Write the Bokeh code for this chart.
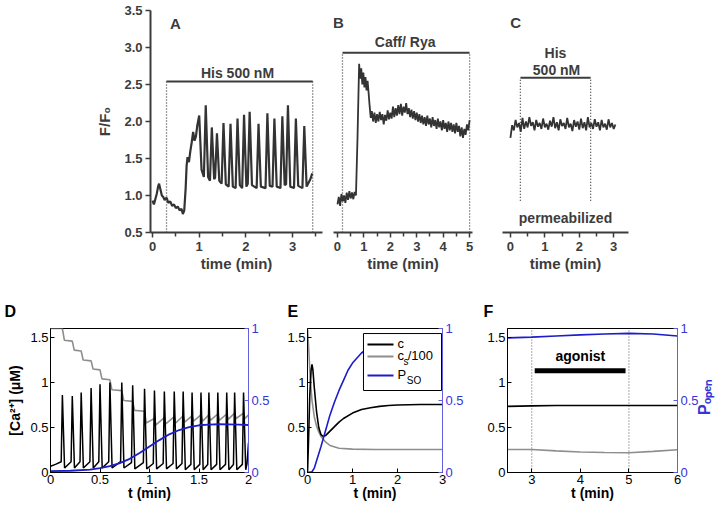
from math import pi
from bokeh.plotting import figure
from bokeh.layouts import row, column
from bokeh.models import (Range1d, LinearAxis, Label, FixedTicker, NumeralTickFormatter,
                          CustomJSTickFormatter, BoxAnnotation, Arrow)
from bokeh.embed import file_html
from bokeh.resources import INLINE

# ---------------- Panel A : His 500 nM, F/F0 vs time (min) ----------------
a_base_t = [0.0, 0.03, 0.06, 0.09, 0.12, 0.14, 0.17, 0.20, 0.23, 0.26, 0.30, 0.34, 0.38, 0.42,
            0.46, 0.50, 0.54, 0.58, 0.62, 0.65, 0.68, 0.71, 0.73, 0.75, 0.78, 0.81, 0.84, 0.87,
            0.90, 0.93, 0.96]
a_base_v = [0.93, 0.88, 0.95, 1.02, 1.12, 1.16, 1.08, 1.00, 0.98, 0.94, 0.97, 0.90, 0.92, 0.86,
            0.88, 0.83, 0.85, 0.80, 0.82, 0.75, 0.80, 1.10, 1.40, 1.52, 1.45, 1.60, 1.72, 1.86,
            1.74, 1.80, 1.95]
a_peak_t = [1.00, 1.14, 1.27, 1.38, 1.52, 1.67, 1.82, 1.96, 2.08, 2.27, 2.46, 2.61, 2.78, 2.90, 3.07, 3.25]
a_peak_v = [2.08, 2.22, 1.92, 1.84, 1.98, 1.97, 2.04, 2.09, 2.13, 1.97, 2.11, 2.04, 2.07, 2.22, 2.04, 1.94]
a_fall_t = [1.05, 1.19, 1.32, 1.43, 1.57, 1.72, 1.87, 2.01, 2.13, 2.32, 2.51, 2.66, 2.83, 2.95, 3.12, 3.30]
a_fall_v = [1.35, 1.25, 1.22, 1.20, 1.15, 1.12, 1.14, 1.12, 1.14, 1.12, 1.13, 1.12, 1.14, 1.12, 1.13, 1.12]
a_low_t = [1.10, 1.23, 1.34, 1.48, 1.63, 1.78, 1.92, 2.04, 2.23, 2.42, 2.57, 2.74, 2.86, 3.03, 3.21, 3.38]
a_low_v = [1.25, 1.20, 1.24, 1.16, 1.12, 1.10, 1.10, 1.16, 1.10, 1.10, 1.12, 1.10, 1.15, 1.10, 1.10, 1.22]
a_end_t = [3.42]
a_end_v = [1.30]
a_stim = [0.30, 3.43]          # His 500 nM application (min)
a_stim_level = 2.54

# ---------------- Panel B : Caff / Rya ----------------
b_t = [0.00, 0.05, 0.10, 0.15, 0.20, 0.25, 0.30, 0.35, 0.40, 0.45, 0.50, 0.55, 0.60, 0.65, 0.70,
       0.76, 0.82, 0.86, 0.90, 0.94, 0.98, 1.02, 1.06, 1.10, 1.14, 1.18, 1.22, 1.26, 1.30, 1.35,
       1.40, 1.45, 1.50, 1.55, 1.60, 1.65, 1.70, 1.75, 1.80, 1.85, 1.90, 1.95, 2.00, 2.05, 2.10,
       2.15, 2.20, 2.25, 2.30, 2.35, 2.40, 2.45, 2.50, 2.55, 2.60, 2.65, 2.70, 2.75, 2.80, 2.85,
       2.90, 2.95, 3.00, 3.05, 3.10, 3.15, 3.20, 3.25, 3.30, 3.35, 3.40, 3.45, 3.50, 3.55, 3.60,
       3.65, 3.70, 3.75, 3.80, 3.85, 3.90, 3.95, 4.00, 4.05, 4.10, 4.15, 4.20, 4.25, 4.30, 4.35,
       4.40, 4.45, 4.50, 4.55, 4.60, 4.65, 4.70, 4.75, 4.80, 4.85, 4.90, 4.95, 5.00]
b_v = [0.88, 0.98, 0.86, 1.02, 0.92, 1.00, 0.90, 1.04, 0.94, 1.06, 0.96, 1.04, 0.95, 1.05, 1.00,
       1.80, 2.78, 2.58, 2.72, 2.50, 2.66, 2.46, 2.60, 2.42, 2.55, 2.38, 2.20, 2.05, 2.14, 2.00,
       2.12, 1.98, 2.10, 2.00, 2.13, 2.02, 2.10, 1.96, 2.09, 2.01, 2.15, 2.03, 2.12, 2.04, 2.20,
       2.06, 2.18, 2.08, 2.22, 2.10, 2.24, 2.08, 2.20, 2.12, 2.25, 2.10, 2.18, 2.06, 2.16, 2.04,
       2.14, 2.02, 2.12, 2.00, 2.10, 1.98, 2.08, 1.96, 2.06, 1.94, 2.08, 1.96, 2.04, 1.92, 2.06,
       1.94, 2.02, 1.90, 2.04, 1.92, 2.00, 1.88, 2.02, 1.90, 1.98, 1.86, 2.00, 1.88, 1.98, 1.86,
       1.96, 1.84, 1.98, 1.86, 1.94, 1.80, 1.92, 1.78, 1.90, 1.82, 1.96, 1.88, 2.02]
b_stim = [0.19, 5.0]
b_stim_level = 2.93

# ---------------- Panel C : His 500 nM, permeabilized ----------------
c_t = [0.00, 0.05, 0.10, 0.15, 0.20, 0.25, 0.30, 0.35, 0.40, 0.45, 0.50, 0.55, 0.60, 0.65, 0.70,
       0.75, 0.80, 0.85, 0.90, 0.95, 1.00, 1.05, 1.10, 1.15, 1.20, 1.25, 1.30, 1.35, 1.40, 1.45,
       1.50, 1.55, 1.60, 1.65, 1.70, 1.75, 1.80, 1.85, 1.90, 1.95, 2.00, 2.05, 2.10, 2.15, 2.20,
       2.25, 2.30, 2.35, 2.40, 2.45, 2.50, 2.55, 2.60, 2.65, 2.70, 2.75, 2.80, 2.85, 2.90, 2.95,
       3.00, 3.05]
c_v = [1.78, 1.95, 1.88, 2.02, 1.92, 1.98, 1.86, 2.05, 1.90, 2.00, 1.92, 2.06, 1.94, 1.99, 1.88,
       2.02, 1.93, 1.98, 1.90, 2.04, 1.92, 1.97, 1.89, 2.01, 1.93, 2.06, 1.91, 1.99, 1.88, 2.03,
       1.94, 1.98, 1.90, 2.05, 1.92, 1.97, 1.87, 2.02, 1.93, 2.00, 1.89, 2.04, 1.91, 1.99, 1.88,
       2.06, 1.92, 1.98, 1.90, 2.03, 1.93, 1.99, 1.88, 2.02, 1.92, 1.97, 1.89, 2.03, 1.92, 1.98,
       1.90, 1.96]
c_stim = [0.29, 2.33]
c_stim_level = 2.59
c_stim_bottom = 0.93

# ---------------- Panel D : model, [Ca2+] (uM), cs/100, P_SO ----------------
d_peak_t = [0.12, 0.22, 0.31, 0.41, 0.50, 0.60, 0.72, 0.83, 0.95, 1.05, 1.15, 1.25, 1.34, 1.43,
            1.52, 1.60, 1.69, 1.78, 1.86, 1.95]
d_peak_c = [0.86, 0.85, 0.89, 0.94, 0.98, 1.00, 1.00, 0.97, 0.93, 0.91, 0.90, 0.90, 0.90, 0.89,
            0.89, 0.89, 0.89, 0.89, 0.89, 0.89]
d_pre_c = [0.12, 0.12, 0.12, 0.12, 0.12, 0.12, 0.12, 0.11, 0.11, 0.10, 0.10, 0.10, 0.10, 0.09,
           0.09, 0.09, 0.09, 0.09, 0.09, 0.09]
d_low_c = [0.05, 0.05, 0.05, 0.05, 0.05, 0.05, 0.05, 0.04, 0.04, 0.04, 0.04, 0.04, 0.03, 0.03,
           0.03, 0.03, 0.03, 0.03, 0.03, 0.03]
d_head_t, d_head_c = [0.0, 0.05], [0.07, 0.09]
d_tail_t, d_tail_c = [1.985, 2.0], [0.10, 0.33]
d_cs_t = [0.0, 0.12, 0.14, 0.22, 0.24, 0.31, 0.33, 0.41, 0.43, 0.50, 0.52, 0.60, 0.62, 0.72, 0.74,
          0.83, 0.85, 0.95, 0.965, 1.05, 1.065, 1.15, 1.165, 1.25, 1.265, 1.34, 1.355, 1.43, 1.445,
          1.52, 1.535, 1.60, 1.615, 1.69, 1.705, 1.78, 1.795, 1.86, 1.875, 1.95, 1.965, 2.0]
d_cs_v = [1.60, 1.60, 1.47, 1.46, 1.36, 1.35, 1.25, 1.24, 1.15, 1.14, 1.04, 1.03, 0.92, 0.91, 0.80,
          0.79, 0.69, 0.68, 0.55, 0.60, 0.53, 0.61, 0.54, 0.62, 0.55, 0.63, 0.56, 0.63, 0.57,
          0.64, 0.57, 0.64, 0.58, 0.65, 0.58, 0.65, 0.59, 0.66, 0.60, 0.66, 0.60, 0.64]
d_pso_t = [0.0, 0.2, 0.4, 0.5, 0.6, 0.7, 0.8, 0.9, 1.0, 1.1, 1.2, 1.3, 1.4, 1.5, 1.6, 1.7, 1.8, 1.9, 2.0]
d_pso_v = [0.010, 0.012, 0.020, 0.030, 0.045, 0.065, 0.095, 0.135, 0.180, 0.225, 0.265, 0.295,
           0.315, 0.328, 0.333, 0.335, 0.334, 0.332, 0.330]

# ---------------- Panel E ----------------
e_c_t = [0.0, 0.02, 0.05, 0.08, 0.10, 0.12, 0.15, 0.20, 0.25, 0.30, 0.35, 0.40, 0.50, 0.60, 0.70,
         0.80, 1.00, 1.20, 1.40, 1.60, 1.80, 2.00, 2.50, 3.00]
e_c_v = [0.00, 0.30, 0.85, 1.14, 1.20, 1.14, 0.95, 0.68, 0.50, 0.42, 0.40, 0.41, 0.46, 0.51, 0.56,
         0.60, 0.66, 0.70, 0.72, 0.735, 0.745, 0.75, 0.755, 0.755]
e_cs_t = [0.0, 0.03, 0.06, 0.10, 0.15, 0.20, 0.25, 0.30, 0.40, 0.50, 0.70, 1.00, 1.50, 2.00, 3.00]
e_cs_v = [1.60, 1.35, 1.05, 0.80, 0.62, 0.52, 0.45, 0.40, 0.34, 0.30, 0.27, 0.26, 0.255, 0.255, 0.255]
e_pso_t = [0.0, 0.10, 0.15, 0.20, 0.30, 0.40, 0.50, 0.60, 0.70, 0.80, 0.90, 1.00, 1.20, 1.40, 1.60,
           1.80, 2.00, 2.50, 3.00]
e_pso_v = [0.0, 0.005, 0.03, 0.08, 0.18, 0.29, 0.40, 0.49, 0.57, 0.64, 0.71, 0.76, 0.83, 0.875,
           0.905, 0.925, 0.935, 0.945, 0.950]
e_legend = ["c", "c", "P"]

# ---------------- Panel F ----------------
f_t = [2.5, 3.0, 3.5, 4.0, 4.5, 5.0, 5.5, 6.0]
f_c = [0.735, 0.740, 0.745, 0.745, 0.745, 0.745, 0.745, 0.745]
f_cs = [0.255, 0.255, 0.240, 0.228, 0.222, 0.220, 0.235, 0.252]
f_popen = [0.935, 0.940, 0.948, 0.956, 0.962, 0.966, 0.962, 0.948]
f_agonist = [3.0, 5.0]
f_bar = [3.06, 4.93]
f_bar_level = 1.13

# =====================================================================
FONT = "Liberation Sans"
TXT = "#3c3c3c"
BLUE = "#1c1cc8"
BLUE_TXT = "#3535d8"
BLUE_AX = "#6060e0"
GRAY = "#8e8e8e"


def interleave(*lists):
    out = []
    for items in zip(*lists):
        out.extend(items)
    return out


def lab(p, x, y, text, size="14px", bold=True, color=TXT, align="center", angle=0.0):
    p.add_layout(Label(x=x, y=y, text=text, text_font=FONT, text_font_size=size,
                       text_font_style="bold" if bold else "normal", text_color=color,
                       text_align=align, text_baseline="middle", angle=angle))


def style_top_axis(ax, ticks, minor):
    ax.ticker = FixedTicker(ticks=ticks, minor_ticks=minor)
    ax.axis_line_color = TXT
    ax.axis_line_width = 2
    ax.major_tick_line_color = TXT
    ax.major_tick_line_width = 1.5
    ax.minor_tick_line_color = TXT
    ax.minor_tick_line_width = 1.5
    ax.major_tick_in = 0
    ax.major_tick_out = 5
    ax.minor_tick_in = 0
    ax.minor_tick_out = 4
    ax.major_label_text_font = FONT
    ax.major_label_text_font_style = "bold"
    ax.major_label_text_font_size = "13px"
    ax.major_label_text_color = TXT
    ax.major_label_standoff = 4
    ax.axis_label_text_font = FONT
    ax.axis_label_text_font_style = "bold"
    ax.axis_label_text_font_size = "15px"
    ax.axis_label_text_color = TXT
    ax.axis_label_standoff = 1


TOP_H = 284


def top_fig(width, left, right, xr, with_y):
    kw = dict(width=width, height=TOP_H, x_range=Range1d(*xr), y_range=Range1d(0.5, 3.5),
              min_border_left=left, min_border_right=right, min_border_top=10,
              min_border_bottom=TOP_H - 232, output_backend="svg", toolbar_location=None)
    if not with_y:
        kw["y_axis_location"] = None
    p = figure(**kw)
    p.outline_line_color = None
    p.grid.visible = False
    p.background_fill_color = "white"
    p.border_fill_color = "white"
    return p


# ---------------- A ----------------
a_t = a_base_t + interleave(a_peak_t, a_fall_t, a_low_t) + a_end_t
a_v = a_base_v + interleave(a_peak_v, a_fall_v, a_low_v) + a_end_v

pA = top_fig(330, 150, 8, (-0.043, 3.64), True)
style_top_axis(pA.xaxis[0], [0, 1, 2, 3], [0.5, 1.5, 2.5, 3.5])
style_top_axis(pA.yaxis[0], [0.5, 1.0, 1.5, 2.0, 2.5, 3.0, 3.5], [])
pA.yaxis[0].major_label_standoff = 3
pA.xaxis[0].axis_label = "time (min)"
pA.yaxis[0].formatter = NumeralTickFormatter(format="0.0")
pA.yaxis[0].axis_label = "F/F\u2080"
pA.yaxis[0].axis_label_standoff = 8
pA.segment(x0=a_stim, y0=[0.5, 0.5], x1=a_stim, y1=[a_stim_level] * 2,
           line_color=TXT, line_width=1.3, line_dash="1 2")
pA.segment(x0=[a_stim[0]], y0=[a_stim_level], x1=[a_stim[1]], y1=[a_stim_level],
           line_color=TXT, line_width=2)
pA.line(a_t, a_v, line_color="#333333", line_width=2.2)
lab(pA, 0.49, 3.32, "A", size="15px")
lab(pA, 1.82, 2.66, "His 500 nM", size="14px")

# ---------------- B ----------------
pB = top_fig(160, 3, 18, (-0.15, 5.11), False)
style_top_axis(pB.xaxis[0], [0, 1, 2, 3, 4, 5], [0.5, 1.5, 2.5, 3.5, 4.5])
pB.xaxis[0].axis_label = "time (min)"
pB.segment(x0=b_stim, y0=[0.5, 0.5], x1=b_stim, y1=[b_stim_level] * 2,
           line_color=TXT, line_width=1.3, line_dash="1 2")
pB.segment(x0=[b_stim[0]], y0=[b_stim_level], x1=[b_stim[1]], y1=[b_stim_level],
           line_color=TXT, line_width=2)
pB.line(b_t, b_v, line_color="#333333", line_width=1.8)
lab(pB, 0.04, 3.34, "B", size="15px")
lab(pB, 2.56, 3.07, "Caff/ Rya", size="14px")

# ---------------- C ----------------
pC = top_fig(234, 12, 96, (-0.23, 3.43), False)
style_top_axis(pC.xaxis[0], [0, 1, 2, 3], [0.5, 1.5, 2.5])
pC.xaxis[0].axis_label = "time (min)"
pC.segment(x0=c_stim, y0=[c_stim_bottom] * 2, x1=c_stim, y1=[c_stim_level] * 2,
           line_color=TXT, line_width=1.3, line_dash="1 2")
pC.segment(x0=[c_stim[0]], y0=[c_stim_level], x1=[c_stim[1]], y1=[c_stim_level],
           line_color=TXT, line_width=2)
pC.line(c_t, c_v, line_color="#333333", line_width=1.8)
lab(pC, 0.15, 3.34, "C", size="15px")
lab(pC, 1.31, 2.93, "His", size="14px")
lab(pC, 1.34, 2.69, "500 nM", size="14px")
lab(pC, 1.60, 0.70, "permeabilized", size="14px")


# ---------------- bottom figures ----------------
BOT_H = 510 - TOP_H


def style_bot_axis(ax, ticks, color="black"):
    ax.ticker = FixedTicker(ticks=ticks, minor_ticks=[])
    ax.formatter = CustomJSTickFormatter(code="return tick.toString();")
    ax.axis_line_color = color
    ax.axis_line_width = 1
    ax.major_tick_line_color = color
    ax.major_tick_line_width = 1
    ax.major_tick_in = 4
    ax.major_tick_out = 0
    ax.minor_tick_line_color = None
    ax.major_label_text_font = FONT
    ax.major_label_text_font_size = "13px"
    ax.major_label_text_color = color
    ax.major_label_standoff = 2
    ax.axis_label_text_font = FONT
    ax.axis_label_text_font_style = "bold"
    ax.axis_label_text_font_size = "14px"
    ax.axis_label_text_color = "black"
    ax.axis_label_standoff = -2


def bot_fig(width, left, right, xr, xticks, letter, offset):
    p = figure(width=width, height=BOT_H, x_range=Range1d(*xr), y_range=Range1d(0, 1.6),
               min_border_left=left, min_border_right=right, min_border_top=328 - TOP_H,
               min_border_bottom=BOT_H - (328 - TOP_H) - 144, output_backend="svg",
               toolbar_location=None)
    p.extra_y_ranges = {"r": Range1d(0, 1)}
    p.grid.visible = False
    p.outline_line_color = "black"
    p.outline_line_width = 1
    style_bot_axis(p.xaxis[0], xticks)
    p.xaxis[0].axis_label = "t (min)"
    style_bot_axis(p.yaxis[0], [0, 0.5, 1, 1.5])
    rax = LinearAxis(y_range_name="r")
    style_bot_axis(rax, [0, 0.5, 1], BLUE_AX)
    rax.major_label_text_color = BLUE_TXT
    rax.major_label_standoff = 3
    p.add_layout(rax, "right")
    p.title.text = letter
    p.title.align = "left"
    p.title.offset = offset
    p.title.standoff = 17
    p.title.text_font = FONT
    p.title.text_font_size = "16px"
    p.title.text_font_style = "bold"
    p.title.text_color = "black"
    return p


# ---------------- D ----------------
d_t = list(d_head_t)
d_c = list(d_head_c)
for tp, h, pre, lo in zip(d_peak_t, d_peak_c, d_pre_c, d_low_c):
    d_t += [tp - 0.012, tp, tp + 0.022]
    d_c += [pre, h, lo]
d_t += d_tail_t
d_c += d_tail_c

pD = bot_fig(272, 50, 24, (0, 2), [0, 0.5, 1, 1.5, 2], "D", -46)
pD.yaxis[0].axis_label = "[Ca\u00b2\u207a] (\u03bcM)"
pD.yaxis[0].axis_label_standoff = 4
pD.line(d_cs_t, d_cs_v, line_color=GRAY, line_width=1.6)
pD.line(d_t, d_c, line_color="black", line_width=1.5)
pD.line(d_pso_t, d_pso_v, line_color=BLUE, line_width=1.8, y_range_name="r")

# ---------------- E ----------------
pE = bot_fig(200, 35, 30, (0, 3), [0, 1, 2, 3], "E", -20)
pE.line(e_cs_t, e_cs_v, line_color=GRAY, line_width=1.6)
pE.line(e_c_t, e_c_v, line_color="black", line_width=1.6)
pE.line(e_pso_t, e_pso_v, line_color=BLUE, line_width=1.6, y_range_name="r")
# legend box
pE.add_layout(BoxAnnotation(left=1.244, right=2.978, bottom=0.911, top=1.544,
                            fill_color="white", fill_alpha=1.0, line_color="black",
                            line_width=1, line_alpha=1.0))
for yy, col in [(1.422, "black"), (1.289, GRAY), (1.078, BLUE)]:
    pE.add_layout(Arrow(end=None, x_start=1.333, y_start=yy, x_end=1.911, y_end=yy,
                        line_color=col, line_width=1.8))
lab(pE, 2.0, 1.43, e_legend[0], size="13px", bold=False, color="black", align="left")
lab(pE, 2.0, 1.30, e_legend[1], size="13px", bold=False, color="black", align="left")
lab(pE, 2.135, 1.23, "s", size="10px", bold=False, color="black", align="left")
lab(pE, 2.225, 1.30, "/100", size="13px", bold=False, color="black", align="left")
lab(pE, 2.0, 1.085, e_legend[2], size="13px", bold=False, color="black", align="left")
lab(pE, 2.205, 1.02, "SO", size="10px", bold=False, color="black", align="left")

# ---------------- F ----------------
pF = bot_fig(252, 35, 45, (2.5, 6), [3, 4, 5, 6], "F", -24)
# right-hand title P_open, written as a rotated tick label of a bare extra axis
pax = LinearAxis(y_range_name="r", ticker=FixedTicker(ticks=[0.40], minor_ticks=[]),
                 formatter=CustomJSTickFormatter(code="return 'P\u2092\u209a\u2091\u2099';"))
pax.axis_line_color = None
pax.major_tick_line_color = None
pax.minor_tick_line_color = None
pax.major_tick_in = 0
pax.major_tick_out = 0
pax.major_label_standoff = 3
pax.major_label_orientation = pi / 2
pax.major_label_text_font = FONT
pax.major_label_text_font_style = "bold"
pax.major_label_text_font_size = "16px"
pax.major_label_text_color = BLUE_TXT
pF.add_layout(pax, "right")

pF.segment(x0=f_agonist, y0=[0, 0], x1=f_agonist, y1=[1.6, 1.6],
           line_color="#555555", line_width=1, line_dash="1 2")
pF.line(f_t, f_cs, line_color=GRAY, line_width=1.6)
pF.line(f_t, f_c, line_color="black", line_width=1.6)
pF.line(f_t, f_popen, line_color=BLUE, line_width=1.6, y_range_name="r")
pF.segment(x0=[f_bar[0]], y0=[f_bar_level], x1=[f_bar[1]], y1=[f_bar_level],
           line_color="black", line_width=5)
lab(pF, 4.0, 1.29, "agonist", size="14px", color="black")

layout = column(row(pA, pB, pC), row(pD, pE, pF))
open("out.html", "w").write(file_html(layout, INLINE))
